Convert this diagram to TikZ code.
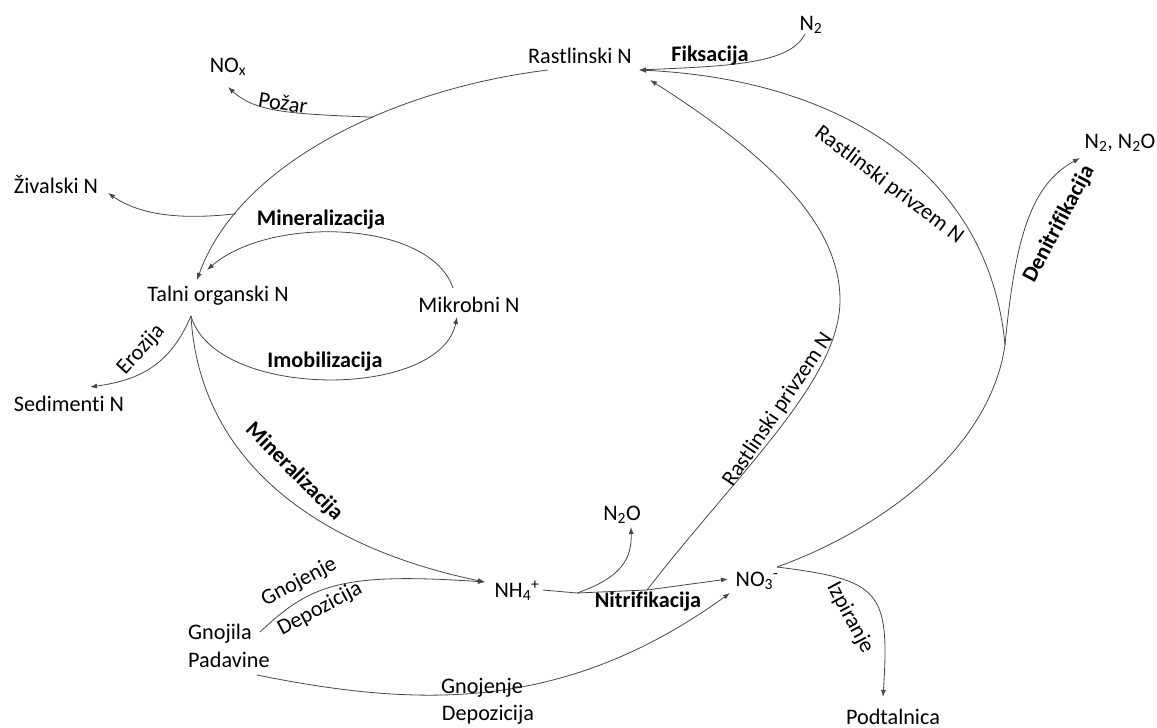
\documentclass[tikz,border=0pt]{standalone}
\usepackage{fontspec}
\setmainfont{Carlito}[Ligatures=NoCommon]
\usetikzlibrary{arrows.meta}

\begin{document}
\begin{tikzpicture}[x=1pt, y=-1pt, font=\fontsize{22.2}{28}\selectfont,
        pool/.style={inner sep=0pt, anchor=base},
        lbl/.style={inner sep=0pt},
        proc/.style={inner sep=0pt, font=\fontsize{22.2}{28}\selectfont\bfseries},
        flow/.style={draw=black!72, line width=0.8pt},
        >={Latex[length=7pt,width=5pt]}]

        \useasboundingbox (0,0) rectangle (1157,728);

        % pools of nitrogen
        \node[pool] (rast) at (580,63) {Rastlinski N};
        \node[pool] (n2) at (811,30) {N\textsubscript{2}};
        \node[pool] (nox) at (228,72) {NO\textsubscript{x}};
        \node[pool] (ziv) at (56,193) {Živalski N};
        \node[pool] (talni) at (218,301) {Talni organski N};
        \node[pool] (mikro) at (469,312) {Mikrobni N};
        \node[pool] (sed) at (69,411) {Sedimenti N};
        \node[pool] (nh4) at (517,597) {NH\textsubscript{4}\textsuperscript{+}};
        \node[pool] (no3) at (757,586) {NO\textsubscript{3}\textsuperscript{-}};
        \node[pool] (n2o) at (622,520) {N\textsubscript{2}O};
        \node[pool] (n2n2o) at (1120,148) {N\textsubscript{2}, N\textsubscript{2}O};
        \node[pool] (podt) at (893,724) {Podtalnica};
        \node[inner sep=0pt, anchor=west, align=left] (gnoj) at (188,646) {Gnojila\\Padavine};

        % ends of the connectors
        \coordinate (n2Out) at (805,34);
        \coordinate (rastIn) at (639,70);
        \coordinate (rastIn2) at (650,80);
        \coordinate (rastOut) at (548,70);
        \coordinate (noxIn) at (228,87);
        \coordinate (zivIn) at (108,193);
        \coordinate (talniIn) at (197,280);
        \coordinate (talniIn2) at (207,270);
        \coordinate (talniOut) at (191,316);
        \coordinate (mikroIn) at (457,317);
        \coordinate (mikroOut) at (453,288);
        \coordinate (sedIn) at (90,387);
        \coordinate (nh4In) at (485,582);
        \coordinate (nh4Out) at (543,590);
        \coordinate (n2oFrom) at (577,593);
        \coordinate (upFrom) at (647,590);
        \coordinate (no3In) at (728,579);
        \coordinate (no3In2) at (730,593);
        \coordinate (no3Out) at (777,567);
        \coordinate (n2oIn) at (631,527);
        \coordinate (split) at (1005,345);
        \coordinate (n2n2oIn) at (1080,158);
        \coordinate (podtIn) at (883,697);
        \coordinate (gnojOut) at (260,632);
        \coordinate (gnojOut2) at (257,675);

        % connectors
        \draw[flow,->] (n2Out) .. controls (790,64) and (730,66) .. (rastIn);
        \draw[flow,->] (rastOut) .. controls (400,88) and (240,160) .. (talniIn)
            coordinate[pos=0.4] (pozarFrom) coordinate[pos=0.8] (zivFrom);
        \draw[flow,->] (pozarFrom) .. controls (290,114) and (255,112) .. (noxIn);
        \draw[flow,->] (zivFrom) .. controls (180,220) and (140,215) .. (zivIn);
        \draw[flow,->] (mikroOut) .. controls (430,220) and (270,215) .. (talniIn2);
        \draw[flow,->] (talniOut) .. controls (215,400) and (440,400) .. (mikroIn);
        \draw[flow,->] (talniOut) .. controls (170,365) and (140,380) .. (sedIn);
        \draw[flow,->] (talniOut) .. controls (200,470) and (330,550) .. (nh4In);
        \draw[flow,->] (gnojOut) .. controls (310,585) and (340,572) .. (nh4In);
        \draw[flow,->] (gnojOut2) .. controls (420,708) and (565,712) .. (no3In2);
        \draw[flow,->] (nh4Out) -- (n2oFrom) -- (upFrom) -- (no3In);
        \draw[flow,->] (n2oFrom) .. controls (620,578) and (632,560) .. (n2oIn);
        \draw[flow,->] (upFrom) .. controls (740,470) and (840,380) .. (840,300)
            .. controls (840,220) and (760,150) .. (rastIn2);
        \draw[flow] (no3Out) .. controls (880,530) and (990,450) .. (split);
        \draw[flow,->] (split) .. controls (990,180) and (850,80) .. (rastIn);
        \draw[flow,->] (split) .. controls (1015,240) and (1030,185) .. (n2n2oIn);
        \draw[flow,->] (no3Out) .. controls (880,580) and (890,590) .. (podtIn);

        % process labels
        \node[proc, anchor=base] (fiks) at (710,61) {Fiksacija};
        \node[lbl, rotate=-9] (pozar) at (283,103) {Požar};
        \node[proc, anchor=base] (mineral) at (321,225) {Mineralizacija};
        \node[proc, anchor=base] (imob) at (325,367) {Imobilizacija};
        \node[lbl, rotate=48] (eroz) at (141,350) {Erozija};
        \node[proc, rotate=-45] (mineral2) at (294,472) {Mineralizacija};
        \node[lbl, rotate=28] (gnojenje) at (299,582) {Gnojenje};
        \node[lbl, rotate=28] (depoz) at (320,609) {Depozicija};
        \node[pool] (gnojenje2) at (482,693) {Gnojenje};
        \node[pool] (depoz2) at (488,720) {Depozicija};
        \node[proc, anchor=base] (nitr) at (648,607) {Nitrifikacija};
        \node[lbl, rotate=56] (privzem) at (778,410) {Rastlinski privzem N};
        \node[lbl, rotate=-37] (privzem2) at (889,185) {Rastlinski privzem N};
        \node[proc, rotate=62] (denitr) at (1059,224) {Denitrifikacija};
        \node[lbl, rotate=-62] (izpir) at (850,618) {Izpiranje};

      \end{tikzpicture}
\end{document}
